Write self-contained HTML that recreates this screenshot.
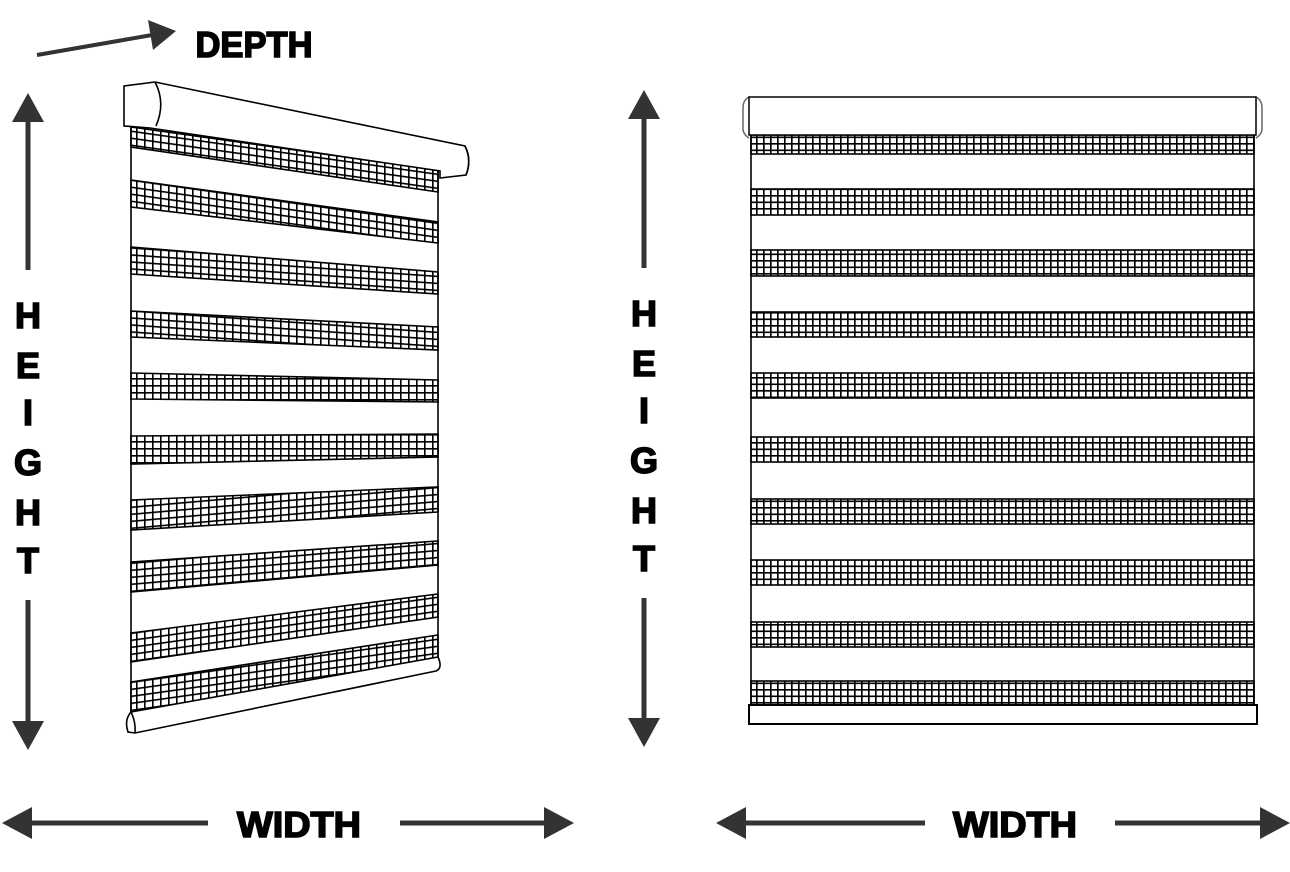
<!DOCTYPE html>
<html><head><meta charset="utf-8"><style>
html,body{margin:0;padding:0;background:#fff;}
svg{display:block}
text{font-family:"Liberation Sans",sans-serif;font-weight:bold;fill:#000;stroke:#000;stroke-width:1.6;}
</style></head><body>
<svg width="1290" height="872" viewBox="0 0 1290 872" xmlns="http://www.w3.org/2000/svg">
<defs>
<pattern id="g" x="0" y="0" width="7" height="6.5" patternUnits="userSpaceOnUse">
<path d="M0.8 0V6.5M0 0.8H7" stroke="#000" stroke-width="1.7" fill="none"/>
</pattern>
<pattern id="gs1" width="8" height="7" patternUnits="userSpaceOnUse" patternTransform="skewY(8)"><path d="M0.8 0V7M0 0.8H8" stroke="#000" stroke-width="1.6"/></pattern>
<pattern id="gs2" width="8" height="7" patternUnits="userSpaceOnUse" patternTransform="skewY(4)"><path d="M0.8 0V7M0 0.8H8" stroke="#000" stroke-width="1.6"/></pattern>
<pattern id="gs3" width="8" height="7" patternUnits="userSpaceOnUse" patternTransform="skewY(0)"><path d="M0.8 0V7M0 0.8H8" stroke="#000" stroke-width="1.6"/></pattern>
<pattern id="gs4" width="8" height="7" patternUnits="userSpaceOnUse" patternTransform="skewY(-5)"><path d="M0.8 0V7M0 0.8H8" stroke="#000" stroke-width="1.6"/></pattern>
<pattern id="gs5" width="8" height="7" patternUnits="userSpaceOnUse" patternTransform="skewY(-8)"><path d="M0.8 0V7M0 0.8H8" stroke="#000" stroke-width="1.6"/></pattern>
</defs>

<!-- LEFT BLIND -->
<g stroke="#000" stroke-width="1.6" fill="none">
<line x1="131" y1="125" x2="131" y2="715"/>
<line x1="438" y1="170" x2="438" y2="662"/>
</g>
<g stroke="#000" stroke-width="1.6">
<polygon points="131,127 438,170 438,192 131,147" fill="url(#gs1)"/>
<polygon points="131,180 438,222 438,243 131,207" fill="url(#gs1)"/>
<polygon points="131,247 438,272 438,294 131,274" fill="url(#gs2)"/>
<polygon points="131,311 438,327 438,350 131,337" fill="url(#gs2)"/>
<polygon points="131,373 438,380 438,402 131,399" fill="url(#gs3)"/>
<polygon points="131,436 438,434 438,457 131,464" fill="url(#gs3)"/>
<polygon points="131,500 438,487 438,512 131,530" fill="url(#gs4)"/>
<polygon points="131,562 438,541 438,565 131,592" fill="url(#gs4)"/>
<polygon points="131,633 438,594 438,617 131,662" fill="url(#gs5)"/>
<polygon points="131,682 438,635 438,658 131,712" fill="url(#gs5)"/>
</g>
<g stroke="#000" stroke-width="1.6" fill="#fff">
<path d="M124,86 L155,82 L465,146 Q472,160 466,175 L440,178 L440,171 L150,128 L124,126 Z"/>
<path d="M155,82 Q166,103 156,126" fill="none"/>
<path d="M465,146 Q472,160 466,175" fill="none"/>
</g>
<g stroke="#000" stroke-width="1.6" fill="#fff">
<path d="M131,712 L438,657 Q443,668 436,671 L135,733 L128,732 Q124,720 131,712 Z"/>
<path d="M131,712 Q136,722 135,733" fill="none"/>
</g>

<!-- RIGHT BLIND -->
<g stroke="#000" stroke-width="1.6" fill="none">
<line x1="751" y1="135" x2="751" y2="705"/>
<line x1="1254" y1="135" x2="1254" y2="705"/>
</g>
<g stroke="#000" stroke-width="1.6" fill="url(#g)">
<rect x="751" y="135" width="503" height="19"/>
<rect x="751" y="189" width="503" height="26"/>
<rect x="751" y="250" width="503" height="26"/>
<rect x="751" y="312" width="503" height="25"/>
<rect x="751" y="373" width="503" height="25"/>
<rect x="751" y="437" width="503" height="25"/>
<rect x="751" y="499" width="503" height="25"/>
<rect x="751" y="560" width="503" height="25"/>
<rect x="751" y="622" width="503" height="25"/>
<rect x="751" y="681" width="503" height="24"/>
</g>
<g stroke="#000" stroke-width="1.5" fill="#fff">
<path d="M749,97 Q743,100 743,108 L743,130 Q744,135 749,138" fill="none" stroke="#666"/>
<path d="M1256,97 Q1262,100 1262,108 L1262,130 Q1261,135 1256,138" fill="none" stroke="#666"/>
<rect x="749" y="97" width="507" height="38"/>
<rect x="749" y="705" width="508" height="19" stroke-width="2"/>
</g>

<!-- ARROWS -->
<g fill="#333" stroke="#333">
<line x1="28" y1="120" x2="28" y2="270" stroke-width="5"/>
<polygon points="28,93 12,122 44,122" stroke="none"/>
<line x1="28" y1="600" x2="28" y2="722" stroke-width="5"/>
<polygon points="28,750 12,721 44,721" stroke="none"/>

<line x1="644" y1="118" x2="644" y2="268" stroke-width="5"/>
<polygon points="644,90 628,119 660,119" stroke="none"/>
<line x1="644" y1="598" x2="644" y2="718" stroke-width="5"/>
<polygon points="644,747 628,718 660,718" stroke="none"/>

<line x1="30" y1="823" x2="208" y2="823" stroke-width="5"/>
<polygon points="2,823 32,807 32,839" stroke="none"/>
<line x1="400" y1="823" x2="546" y2="823" stroke-width="5"/>
<polygon points="574,823 544,807 544,839" stroke="none"/>

<line x1="745" y1="823" x2="925" y2="823" stroke-width="5"/>
<polygon points="716,823 746,807 746,839" stroke="none"/>
<line x1="1115" y1="823" x2="1262" y2="823" stroke-width="5"/>
<polygon points="1290,823 1260,807 1260,839" stroke="none"/>

<line x1="37" y1="55" x2="152" y2="35" stroke-width="4"/>
<polygon points="176,31 148,20 153,50" stroke="none"/>
</g>

<!-- TEXT -->
<g font-size="36" text-anchor="middle">
<text x="28" y="328">H</text>
<text x="28" y="378">E</text>
<text x="28" y="425">I</text>
<text x="28" y="475">G</text>
<text x="28" y="525">H</text>
<text x="28" y="573">T</text>
<text x="644" y="326">H</text>
<text x="644" y="376">E</text>
<text x="644" y="423">I</text>
<text x="644" y="473">G</text>
<text x="644" y="523">H</text>
<text x="644" y="571">T</text>
<text x="299" y="837" textLength="124" lengthAdjust="spacingAndGlyphs">WIDTH</text>
<text x="1015" y="837" textLength="124" lengthAdjust="spacingAndGlyphs">WIDTH</text>
<text x="254" y="57" textLength="117" lengthAdjust="spacingAndGlyphs">DEPTH</text>
</g>
</svg>
</body></html>
